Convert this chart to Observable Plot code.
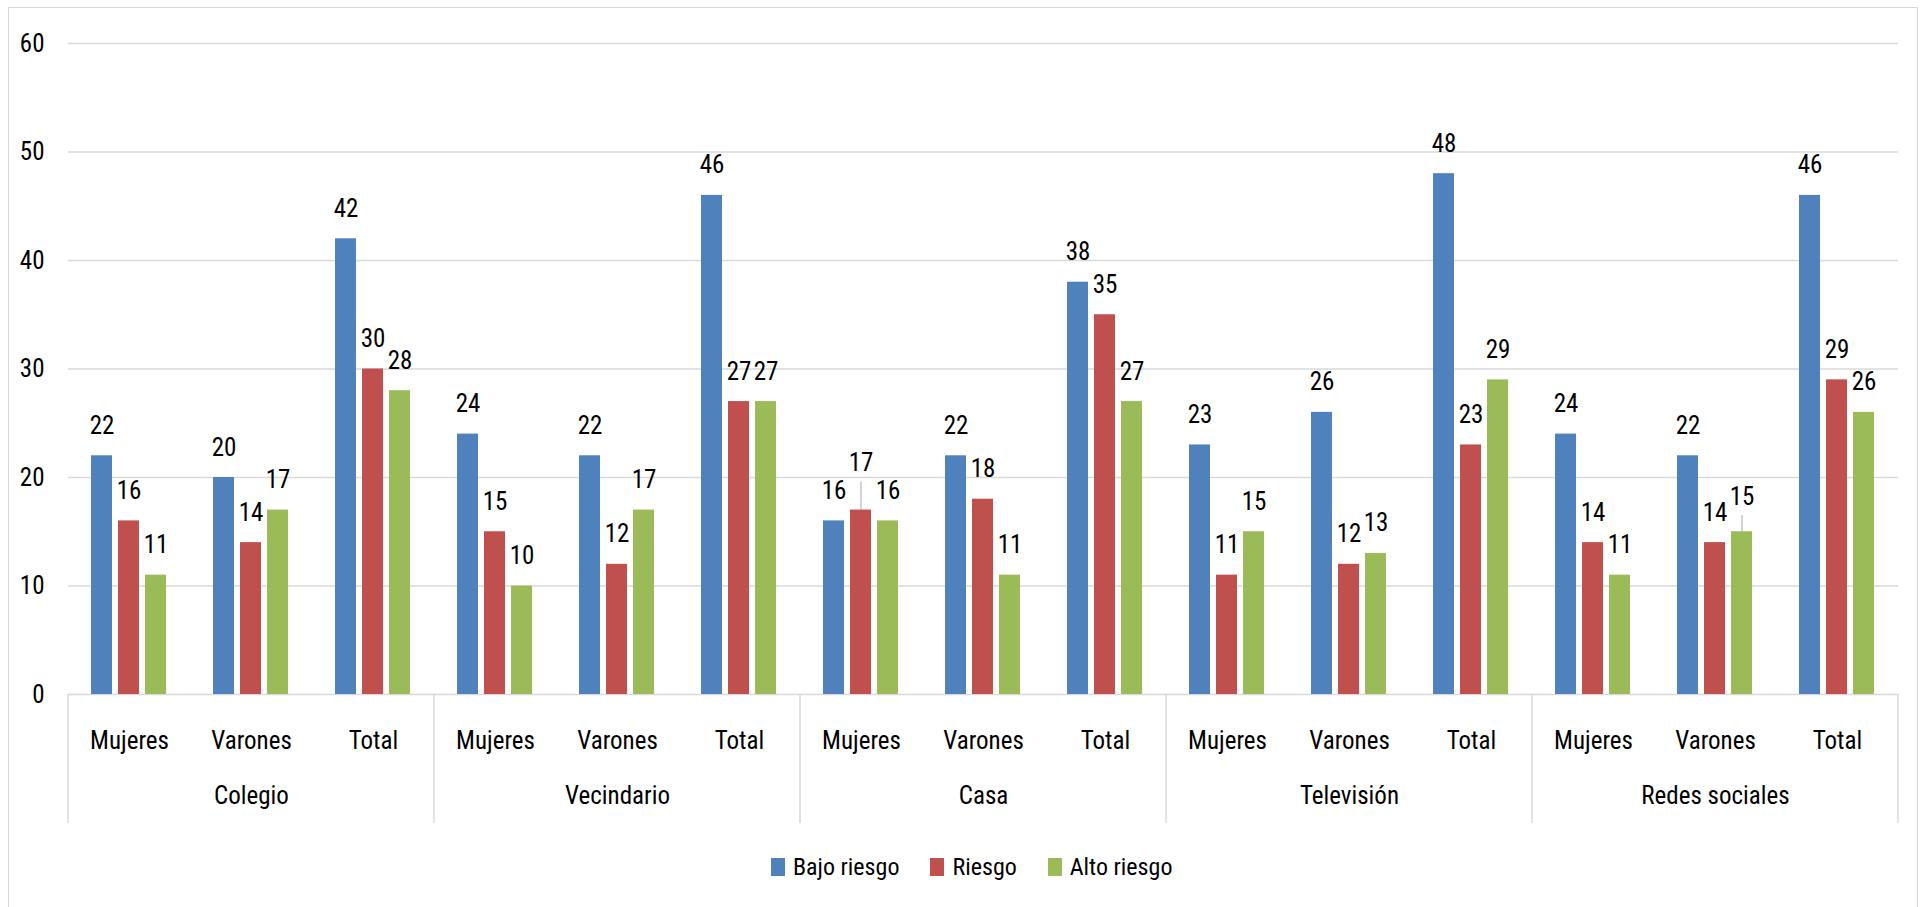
<!DOCTYPE html>
<html><head><meta charset="utf-8">
<script src="https://cdn.jsdelivr.net/npm/d3@7"></script>
<script src="https://cdn.jsdelivr.net/npm/@observablehq/plot@0.6"></script>
<style>
html,body{margin:0;padding:0;background:#fff;}
#wrap{position:relative;width:1923px;height:907px;overflow:hidden;background:#fff;}
#border{position:absolute;left:8px;top:7px;width:1910px;height:905px;border:1.5px solid #d9d9d9;box-sizing:border-box;}
#chart{position:absolute;left:0;top:0;}
#legend{position:absolute;left:771px;top:850px;}
#legend .lg-swatches{font-size:24px !important;font-family:'Roboto Condensed',sans-serif !important;color:#000;}
#legend .lg-swatch{margin-right:31px !important;}
#legend .lg-swatch > svg{margin-right:8px !important;}
</style>
</head><body>
<div id="wrap"><div id="border"></div><div id="chart"></div><div id="legend"></div></div>
<script>
const FONT = "'Roboto Condensed',sans-serif";
const groups = ["Colegio","Vecindario","Casa","Televisión","Redes sociales"];
const subgroups = ["Mujeres","Varones","Total"];
const series = ["Bajo riesgo","Riesgo","Alto riesgo"];
const colors = ["#4F81BD","#C0504D","#9BBB59"];
// values in order: Colegio(M,V,T), Vecindario(M,V,T), Casa(M,V,T), Televisión(M,V,T), Redes sociales(M,V,T)
const bajoRiesgo = [22,20,42, 24,22,46, 16,22,38, 23,26,48, 24,22,46];
const riesgo     = [16,14,30, 15,12,27, 17,18,35, 11,12,23, 14,14,29];
const altoRiesgo = [11,17,28, 10,17,27, 16,11,27, 15,13,29, 11,15,26];
const yTicks = [0,10,20,30,40,50,60];
// labels that the original chart lifted above a leader line
const liftedLabels = [
  {key: "Casa|Mujeres", serie: "Riesgo", lift: 17},
  {key: "Redes sociales|Varones", serie: "Alto riesgo", lift: 5}
];

const valueSets = [bajoRiesgo, riesgo, altoRiesgo];
const keys = [];
const rows = [];
groups.forEach((g, gi) => subgroups.forEach((s, si) => {
  const key = g + "|" + s;
  keys.push(key);
  const idx = gi * subgroups.length + si;
  series.forEach((se, k) => rows.push({key, group: g, sub: s, serie: se, value: valueSets[k][idx]}));
}));
const groupRows = groups.map(g => ({key: g + "|" + subgroups[1], group: g}));
const isLifted = r => liftedLabels.some(l => l.key === r.key && l.serie === r.serie);
const normalRows = rows.filter(r => !isLifted(r));

const liftMarks = liftedLabels.flatMap(l => {
  const r = rows.filter(d => d.key === l.key && d.serie === l.serie);
  return [
    Plot.ruleX(r, {fx: "key", x: "serie", y1: "value", y2: "value", insetTop: 0, insetBottom: l.lift + 11, stroke: "#a6a6a6", strokeWidth: 1}),
    Plot.text(r, {fx: "key", x: "serie", y: "value", text: d => String(d.value), dy: -30 - l.lift, fill: "#000", fontSize: 25})
  ];
});

const plot = Plot.plot({
  width: 1923, height: 824,
  marginLeft: 68, marginRight: 25, marginTop: 43, marginBottom: 130,
  style: {fontFamily: FONT, fontSize: "25px", color: "#000", background: "transparent", overflow: "visible"},
  fx: {domain: keys, padding: 0, label: null, tickFormat: k => k.split("|")[1], tickSize: 0, tickPadding: 37, axis: "bottom"},
  x: {domain: series, paddingInner: 0.222, paddingOuter: 0.87, axis: null},
  y: {domain: [0, 60], ticks: yTicks, tickSize: 0, tickPadding: 24, label: null},
  color: {domain: series, range: colors},
  marks: [
    Plot.ruleY(yTicks, {y: d => d, stroke: "#d9d9d9", strokeWidth: 1.5}),
    Plot.barY(rows, {fx: "key", x: "serie", y: "value", fill: "serie"}),
    Plot.text(normalRows, {fx: "key", x: "serie", y: "value", text: d => String(d.value), dy: -30, fill: "#000", fontSize: 25}),
    ...liftMarks,
    Plot.text(groupRows, {fx: "key", text: "group", frameAnchor: "bottom", dy: 109, fill: "#000", fontSize: 25})
  ]
});
document.getElementById("chart").appendChild(plot);

// group separators positioned via the library's fx and y scales
const fxs = plot.scale("fx");
const ys = plot.scale("y");
const y0 = ys.apply(0);
const svg = d3.select(plot);
const sepX = groups.map(g => fxs.apply(g + "|" + subgroups[0]));
sepX.push(fxs.apply(keys[keys.length - 1]) + fxs.bandwidth);
svg.append("g").selectAll("line").data(sepX).join("line")
  .attr("x1", d => d).attr("x2", d => d)
  .attr("y1", y0).attr("y2", y0 + 129)
  .attr("stroke", "#d9d9d9").attr("stroke-width", 1.5);

const legend = Plot.legend({
  color: {domain: series, range: colors},
  legend: "swatches",
  swatchWidth: 14, swatchHeight: 18,
  className: "lg",
  style: {fontFamily: FONT, fontSize: "24px", color: "#000"}
});
document.getElementById("legend").appendChild(legend);
</script>
</body></html>
